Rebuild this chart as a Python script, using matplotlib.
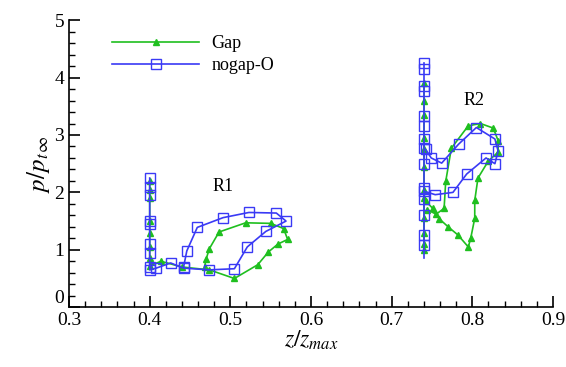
"""
Surface pressure ratio along z/z_max for the two rows (R1, R2): Gap vs nogap-O.
"""
import matplotlib
matplotlib.use("Agg")
import matplotlib.pyplot as plt
from matplotlib.ticker import MultipleLocator, FormatStrFormatter

plt.rcParams["font.family"] = ["Liberation Serif", "DejaVu Serif"]
plt.rcParams["mathtext.fontset"] = "stix"

# ---- data ------------------------------------------------------------------
gap_r1_z = [0.400, 0.400, 0.400, 0.400, 0.400, 0.400, 0.400, 0.400,
            0.414, 0.440, 0.474, 0.505, 0.534, 0.547, 0.559, 0.571,
            0.566, 0.550, 0.519, 0.486, 0.474, 0.470, 0.468]
gap_r1_p = [2.20, 2.05, 1.90, 1.50, 1.30, 1.05, 0.85, 0.72,
            0.80, 0.70, 0.65, 0.50, 0.74, 0.96, 1.10, 1.18,
            1.37, 1.46, 1.47, 1.31, 1.02, 0.84, 0.70]

nogap_r1_z = [0.400, 0.400, 0.400, 0.400, 0.400, 0.400, 0.400, 0.400, 0.400,
              0.408, 0.426, 0.442, 0.474, 0.505, 0.521, 0.544, 0.569,
              0.557, 0.523, 0.491, 0.459, 0.446, 0.442]
nogap_r1_p = [2.25, 2.10, 1.95, 1.50, 1.45, 1.10, 0.95, 0.70, 0.65,
              0.68, 0.77, 0.68, 0.65, 0.67, 1.05, 1.32, 1.50,
              1.64, 1.65, 1.56, 1.39, 0.98, 0.70]

gap_r2_z = [0.740] * 12
gap_r2_p = [3.90, 3.60, 3.35, 2.95, 2.75, 2.45, 2.05, 1.90, 1.55, 1.30, 1.10, 1.00]

gap_r2_loop_z = [0.742, 0.751, 0.759, 0.770, 0.782, 0.795, 0.798, 0.803, 0.803,
                 0.807, 0.820, 0.832, 0.832, 0.826, 0.810, 0.795, 0.774,
                 0.767, 0.765, 0.755, 0.744]
gap_r2_loop_p = [1.85, 1.72, 1.54, 1.40, 1.26, 1.05, 1.20, 1.55, 1.86,
                 2.25, 2.55, 2.70, 2.90, 3.12, 3.20, 3.16, 2.77,
                 2.19, 1.72, 1.62, 1.70]

nogap_r2_z = [0.740] * 14
nogap_r2_p = [4.25, 4.15, 3.86, 3.77, 3.33, 3.16, 2.93, 2.77, 2.49, 2.07,
              1.89, 1.61, 1.26, 1.09]

nogap_r2_loop_z = [0.740, 0.754, 0.776, 0.793, 0.817, 0.828, 0.832, 0.828,
                   0.805, 0.783, 0.762, 0.749, 0.742]
nogap_r2_loop_p = [2.02, 1.96, 2.00, 2.32, 2.60, 2.50, 2.72, 2.93,
                   3.13, 2.84, 2.51, 2.60, 2.75]

y_ticks = [0, 1, 2, 3, 4, 5]

GREEN = "#1fbf1f"
BLUE = "#3a3af5"

fig = plt.figure(figsize=(5.66, 3.67), dpi=100)
ax = fig.add_axes([0.122, 0.163, 0.855, 0.782])

gap_kw = dict(color=GREEN, lw=1.2, marker="^", ms=5, mfc=GREEN, mec=GREEN)
nog_kw = dict(color=BLUE, lw=1.2, marker="s", ms=7, mfc="none", mec=BLUE, mew=1.0)

ax.plot(gap_r1_z, gap_r1_p, label="Gap", **gap_kw)
ax.plot(gap_r2_z, gap_r2_p, **gap_kw)
ax.plot(gap_r2_loop_z, gap_r2_loop_p, **gap_kw)
ax.plot(nogap_r1_z, nogap_r1_p, label="nogap-O", **nog_kw)
# vertical line runs a bit below the last square
ax.plot(nogap_r2_z + [0.740], nogap_r2_p + [0.85],
        markevery=list(range(len(nogap_r2_p))), **nog_kw)
ax.plot(nogap_r2_loop_z, nogap_r2_loop_p, **nog_kw)

ax.text(0.491, 2.1, "R1", fontsize=13, ha="center", va="center")
ax.text(0.802, 3.6, "R2", fontsize=13, ha="center", va="center")

ax.set_xlim(0.3, 0.9)
ax.set_ylim(0, 5)
ax.xaxis.set_major_locator(MultipleLocator(0.1))
ax.xaxis.set_minor_locator(MultipleLocator(0.02))
ax.set_yticks(y_ticks)
ax.yaxis.set_minor_locator(MultipleLocator(0.2))
ax.tick_params(which="both", direction="in", labelsize=14, top=False, right=False)
ax.tick_params(which="major", length=8, width=1.2)
ax.tick_params(which="minor", length=4, width=1.0)
ax.xaxis.set_major_formatter(FormatStrFormatter("%.1f"))
ax.yaxis.set_major_formatter(FormatStrFormatter("%d"))
for s in ("top", "right"):
    ax.spines[s].set_visible(False)
for s in ("left", "bottom"):
    ax.spines[s].set_linewidth(1.2)

# the "0" on the y axis sits a little higher, clear of "0.3"
ax.yaxis.get_major_ticks()[0].label1.set_verticalalignment("bottom")

ax.set_xlabel(r"$z/z_{max}$", fontsize=17, labelpad=0)
ax.set_ylabel(r"$p/p_{t\,\infty}$", fontsize=18, labelpad=2)

ax.legend(loc="upper left", bbox_to_anchor=(0.056, 1.005), frameon=False,
          fontsize=13, handlelength=4.8, handletextpad=0.7, labelspacing=0.3)

fig.savefig("out.png", dpi=100)
